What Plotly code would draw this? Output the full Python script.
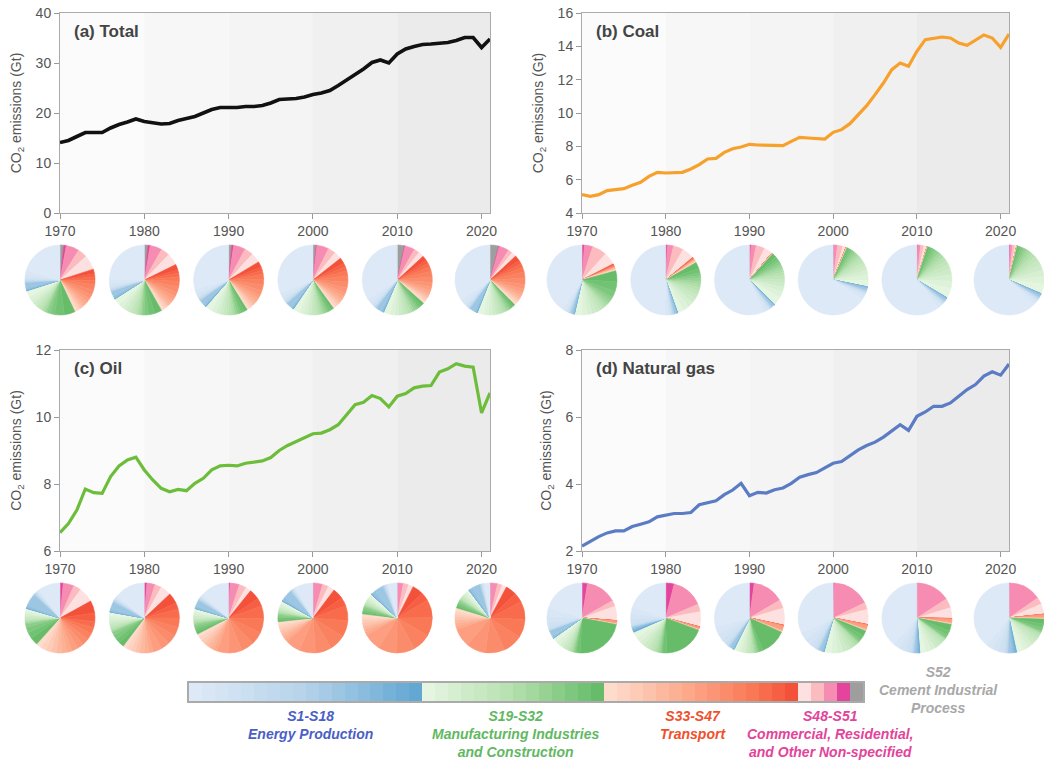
import plotly.graph_objects as go

W, H = 1044, 764

# ---------------------------------------------------------------- time series (Gt CO2)
years = list(range(1970, 2022))

total = [14.1, 14.5, 15.3, 16.1, 16.1, 16.1, 17.0, 17.7, 18.2, 18.8,
         18.3, 18.0, 17.8, 17.9, 18.5, 18.9, 19.3, 20.0, 20.7, 21.1,
         21.1, 21.1, 21.3, 21.3, 21.5, 22.0, 22.7, 22.8, 22.9, 23.2,
         23.7, 24.0, 24.5, 25.5, 26.5, 27.7, 28.8, 30.1, 30.6, 30.0,
         31.8, 32.8, 33.3, 33.7, 33.8, 33.9, 34.1, 34.5, 35.1, 35.1,
         33.1, 34.8]

coal = [5.1, 5.0, 5.1, 5.34, 5.4, 5.46, 5.66, 5.84, 6.2, 6.44,
        6.4, 6.4, 6.44, 6.64, 6.9, 7.24, 7.28, 7.64, 7.86, 7.96,
        8.12, 8.08, 8.06, 8.06, 8.04, 8.3, 8.54, 8.5, 8.46, 8.44,
        8.84, 9.0, 9.36, 9.9, 10.44, 11.1, 11.8, 12.6, 13.0, 12.8,
        13.7, 14.4, 14.46, 14.56, 14.5, 14.2, 14.06, 14.36, 14.68, 14.5,
        13.94, 14.74]

oil = [6.55, 6.82, 7.22, 7.85, 7.74, 7.72, 8.22, 8.54, 8.72, 8.80,
       8.42, 8.12, 7.87, 7.77, 7.84, 7.80, 8.02, 8.17, 8.42, 8.54,
       8.56, 8.54, 8.62, 8.65, 8.69, 8.79, 9.00, 9.15, 9.27, 9.40,
       9.50, 9.52, 9.62, 9.77, 10.07, 10.37, 10.44, 10.64, 10.55, 10.30,
       10.62, 10.70, 10.87, 10.92, 10.94, 11.34, 11.44, 11.59, 11.52, 11.49,
       10.12, 10.72]

gas = [2.15, 2.30, 2.43, 2.54, 2.60, 2.60, 2.73, 2.80, 2.87, 3.02,
       3.08, 3.12, 3.12, 3.15, 3.38, 3.45, 3.50, 3.68, 3.82, 4.02,
       3.65, 3.75, 3.73, 3.83, 3.88, 4.02, 4.20, 4.28, 4.34, 4.48,
       4.62, 4.67, 4.85, 5.02, 5.15, 5.25, 5.40, 5.60, 5.77, 5.60,
       6.02, 6.15, 6.32, 6.32, 6.42, 6.62, 6.82, 6.97, 7.22, 7.35,
       7.25, 7.58]

# ---------------------------------------------------------------- sector shares (%), S1..S52
# each list: S1-S18 energy | S19-S32 manufacturing | S33-S47 transport | S48-S51 commercial | S52 cement
pie_years = [1970, 1980, 1990, 2000, 2010, 2021]
sectors = [f"S{i}" for i in range(1, 53)]

total_1970 = ([20.5, 2.0, 1.2, 0.8, 0.5, 0.3, 0.2, 0.2, 0.2, 0.2, 0.2, 2.2, 0.8, 0.3, 0.1, 0.1, 0.1, 0.1]
              + [3.0, 2.0, 1.5, 1.5, 1.2, 1.2, 1.0, 1.0, 0.8, 0.8, 1.5, 2.0, 4.5, 5.0]
              + [1.0, 1.0, 0.8, 0.8, 1.0, 1.2, 1.5, 1.5, 2.0, 2.5, 2.5, 2.0, 1.7, 1.5, 2.0]
              + [6.7, 4.4, 6.0, 1.1] + [1.8])
total_1980 = ([24.5, 2.0, 1.2, 0.8, 0.5, 0.3, 0.2, 0.2, 0.2, 0.2, 0.2, 2.2, 0.8, 0.3, 0.1, 0.1, 0.1, 0.1]
              + [3.0, 2.2, 1.8, 1.6, 1.4, 1.3, 1.2, 1.0, 0.8, 0.7, 1.2, 1.5, 3.0, 3.3]
              + [1.0, 1.0, 0.8, 0.8, 1.0, 1.2, 1.5, 1.6, 2.1, 2.6, 2.6, 2.1, 1.7, 1.5, 2.5]
              + [5.5, 4.0, 5.5, 1.0] + [1.7])
total_1990 = ([29.1, 2.0, 1.2, 0.8, 0.5, 0.3, 0.2, 0.2, 0.2, 0.2, 0.2, 2.2, 0.8, 0.3, 0.1, 0.1, 0.1, 0.1]
              + [3.0, 2.2, 1.8, 1.6, 1.4, 1.3, 1.2, 1.0, 0.8, 0.7, 1.0, 1.0, 1.5, 1.5]
              + [1.0, 1.0, 0.8, 0.8, 1.0, 1.2, 1.5, 1.6, 2.2, 2.7, 2.7, 2.2, 1.8, 1.6, 2.6]
              + [4.5, 4.0, 5.5, 0.8] + [1.5])
total_2000 = ([30.8, 2.0, 1.2, 0.8, 0.5, 0.3, 0.2, 0.2, 0.2, 0.2, 0.2, 2.2, 0.8, 0.3, 0.1, 0.1, 0.1, 0.1]
              + [3.0, 2.2, 1.8, 1.6, 1.4, 1.3, 1.2, 1.0, 0.8, 1.0, 0.8, 0.8, 1.2, 1.2]
              + [1.0, 1.0, 0.8, 0.8, 1.0, 1.2, 1.5, 1.7, 2.3, 2.8, 2.8, 2.3, 1.9, 1.7, 2.7]
              + [3.5, 3.5, 5.5, 0.3] + [1.5])
total_2010 = ([33.8, 2.0, 1.2, 0.8, 0.5, 0.3, 0.2, 0.2, 0.2, 0.2, 0.2, 2.2, 0.8, 0.3, 0.1, 0.1, 0.1, 0.1]
              + [3.0, 2.2, 1.8, 1.6, 1.4, 1.3, 1.2, 1.0, 0.8, 1.0, 0.8, 0.8, 1.4, 1.4]
              + [0.9, 0.9, 0.7, 0.7, 0.9, 1.1, 1.4, 1.6, 2.1, 2.6, 2.6, 2.1, 1.7, 1.6, 2.3]
              + [2.5, 2.5, 4.5, 0.3] + [3.3])
total_2021 = ([34.4, 2.0, 1.2, 0.8, 0.5, 0.3, 0.2, 0.2, 0.2, 0.2, 0.2, 2.2, 0.8, 0.3, 0.1, 0.1, 0.1, 0.1]
              + [3.0, 2.2, 1.8, 1.6, 1.4, 1.3, 1.2, 1.0, 0.8, 0.8, 0.6, 0.6, 1.0, 1.0]
              + [0.9, 0.9, 0.7, 0.7, 0.9, 1.1, 1.4, 1.7, 2.2, 2.8, 2.8, 2.2, 1.8, 1.7, 2.6]
              + [2.2, 2.0, 4.5, 0.3] + [4.0])

coal_1970 = ([40.4, 1.5, 0.8, 0.5, 0.4, 0.3, 0.2, 0.2, 0.2, 0.2, 0.2, 0.8, 0.3, 0.2, 0.1, 0.1, 0.05, 0.05]
             + [3.5, 2.5, 2.2, 2.0, 1.8, 1.5, 1.2, 1.2, 1.3, 1.5, 1.5, 3.0, 4.5, 5.0]
             + [0.3, 0.3, 0.2, 0.2, 0.2, 0.2, 0.2, 0.2, 0.2, 0.2, 0.2, 0.2, 0.2, 0.2, 0.4]
             + [5.7, 6.7, 3.9, 1.1] + [0.0])
coal_1980 = ([49.5, 1.5, 0.8, 0.5, 0.4, 0.3, 0.2, 0.2, 0.2, 0.2, 0.2, 0.8, 0.3, 0.2, 0.1, 0.1, 0.05, 0.05]
             + [3.0, 2.8, 2.5, 2.2, 2.0, 1.8, 1.7, 1.5, 1.4, 1.4, 1.2, 1.3, 2.0, 3.0]
             + [0.3, 0.2, 0.2, 0.2, 0.2, 0.2, 0.2, 0.2, 0.2, 0.2, 0.1, 0.1, 0.1, 0.1, 0.3]
             + [5.6, 4.7, 2.8, 0.8] + [0.0])
coal_1990 = ([56.5, 1.5, 0.8, 0.5, 0.4, 0.3, 0.2, 0.2, 0.2, 0.2, 0.2, 0.8, 0.3, 0.2, 0.1, 0.1, 0.05, 0.05]
             + [4.0, 2.6, 2.3, 2.0, 1.8, 1.6, 1.5, 1.4, 1.3, 1.2, 1.2, 1.3, 1.5, 2.0]
             + [0.05, 0.05, 0.05, 0.05, 0.05, 0.03, 0.03, 0.03, 0.03, 0.03, 0.02, 0.02, 0.02, 0.02, 0.02]
             + [3.9, 4.0, 2.4, 0.7] + [0.0])
coal_2000 = ([65.9, 1.5, 0.8, 0.5, 0.4, 0.3, 0.2, 0.2, 0.2, 0.2, 0.2, 0.8, 0.3, 0.2, 0.1, 0.1, 0.05, 0.05]
             + [3.0, 2.5, 2.2, 2.0, 1.8, 1.6, 1.5, 1.3, 1.2, 1.1, 0.9, 0.9, 1.0, 0.7]
             + [0.05, 0.05, 0.05, 0.05, 0.05, 0.03, 0.03, 0.03, 0.03, 0.03, 0.02, 0.02, 0.02, 0.02, 0.02]
             + [1.5, 2.5, 1.5, 0.5] + [0.0])
coal_2010 = ([60.4, 1.5, 0.8, 0.5, 0.4, 0.3, 0.2, 0.2, 0.2, 0.2, 0.2, 0.8, 0.3, 0.2, 0.1, 0.1, 0.05, 0.05]
             + [4.5, 3.5, 3.0, 2.6, 2.3, 2.0, 1.8, 1.6, 1.4, 1.3, 1.2, 1.1, 1.2, 1.0]
             + [0.03, 0.03, 0.03, 0.03, 0.03, 0.02, 0.02, 0.02, 0.02, 0.02, 0.01, 0.01, 0.01, 0.01, 0.01]
             + [1.5, 1.5, 1.2, 0.5] + [0.0])
coal_2021 = ([62.5, 1.5, 0.8, 0.5, 0.4, 0.3, 0.2, 0.2, 0.2, 0.2, 0.2, 0.8, 0.3, 0.2, 0.1, 0.1, 0.05, 0.05]
             + [4.5, 3.5, 3.0, 2.6, 2.3, 2.0, 1.8, 1.6, 1.4, 1.2, 1.0, 1.0, 0.9, 0.8]
             + [0.02, 0.02, 0.02, 0.02, 0.02, 0.02, 0.02, 0.02, 0.02, 0.02, 0.0, 0.0, 0.0, 0.0, 0.0]
             + [0.8, 1.2, 1.0, 0.6] + [0.0])

oil_1970 = ([10.0, 0.8, 0.5, 0.4, 0.3, 0.3, 0.2, 0.2, 0.2, 0.2, 0.3, 5.5, 1.0, 0.3, 0.1, 0.1, 0.1, 0.1]
            + [1.2, 1.0, 0.9, 0.8, 0.7, 0.6, 0.6, 0.5, 0.5, 0.5, 1.5, 2.5, 3.0, 3.5]
            + [2.5, 2.5, 2.5, 2.4, 2.5, 2.4, 2.4, 3.0, 3.0, 3.0, 3.0, 3.0, 2.8, 4.0, 5.7]
            + [7.0, 3.5, 5.0, 1.5] + [0.0])
oil_1980 = ([14.0, 0.8, 0.5, 0.4, 0.3, 0.3, 0.2, 0.2, 0.2, 0.2, 0.4, 3.2, 0.9, 0.3, 0.1, 0.1, 0.05, 0.05]
            + [1.8, 1.4, 1.2, 1.0, 0.9, 0.8, 0.8, 0.6, 0.5, 0.5, 1.5, 2.0, 2.2, 2.3]
            + [2.0, 2.0, 2.0, 2.0, 2.2, 2.2, 2.0, 4.0, 4.2, 4.2, 4.2, 4.2, 4.2, 3.0, 4.8]
            + [5.0, 3.0, 3.8, 1.2] + [0.0])
oil_1990 = ([13.2, 0.8, 0.5, 0.4, 0.3, 0.3, 0.2, 0.2, 0.2, 0.2, 0.4, 2.6, 0.8, 0.2, 0.1, 0.1, 0.05, 0.05]
            + [1.4, 1.0, 0.9, 0.8, 0.7, 0.6, 0.6, 0.5, 0.5, 0.5, 1.0, 1.1, 1.2, 1.2]
            + [1.7, 1.7, 1.7, 1.7, 1.7, 1.8, 1.8, 5.5, 6.0, 6.0, 6.0, 6.5, 6.0, 3.6, 5.0]
            + [2.5, 3.3, 4.3, 0.7] + [0.0])
oil_2000 = ([8.2, 0.6, 0.4, 0.3, 0.3, 0.2, 0.2, 0.2, 0.2, 0.2, 0.4, 3.8, 1.2, 0.4, 0.2, 0.1, 0.05, 0.05]
            + [1.2, 0.9, 0.8, 0.7, 0.6, 0.5, 0.5, 0.4, 0.4, 0.4, 0.7, 0.8, 0.9, 0.9]
            + [1.4, 1.4, 1.4, 1.4, 1.4, 1.5, 1.5, 7.0, 7.5, 7.5, 7.5, 7.5, 7.0, 4.0, 5.0]
            + [3.0, 2.8, 4.2, 0.3] + [0.0])
oil_2010 = ([4.0, 0.5, 0.4, 0.3, 0.3, 0.2, 0.2, 0.2, 0.2, 0.2, 0.3, 4.2, 1.3, 0.5, 0.2, 0.1, 0.05, 0.05]
            + [1.4, 0.9, 0.8, 0.7, 0.6, 0.5, 0.5, 0.4, 0.4, 0.4, 0.8, 0.8, 0.9, 0.8]
            + [1.4, 1.4, 1.4, 1.4, 1.4, 1.5, 1.5, 8.0, 8.5, 8.5, 8.5, 8.5, 8.4, 4.0, 5.0]
            + [2.2, 2.5, 2.5, 0.3] + [0.0])
oil_2021 = ([2.4, 0.4, 0.3, 0.3, 0.2, 0.2, 0.2, 0.2, 0.1, 0.1, 0.3, 3.6, 1.2, 0.5, 0.1, 0.1, 0.05, 0.05]
            + [1.4, 0.9, 0.8, 0.7, 0.6, 0.5, 0.5, 0.4, 0.4, 0.4, 0.8, 0.8, 0.9, 0.9]
            + [1.4, 1.4, 1.4, 1.4, 1.5, 1.5, 1.5, 8.5, 9.0, 9.0, 9.0, 8.5, 8.4, 4.5, 5.0]
            + [2.1, 2.2, 3.3, 0.2] + [0.0])

gas_1970 = ([20.2, 4.0, 3.0, 2.0, 1.0, 0.2, 0.2, 0.2, 0.1, 0.1, 0.1, 2.8, 0.6, 0.2, 0.1, 0.1, 0.0, 0.0]
            + [2.5, 1.8, 1.5, 1.3, 1.1, 0.9, 0.8, 0.7, 0.5, 0.5, 0.5, 0.5, 1.8, 23.0]
            + [0.05, 0.05, 0.05, 0.05, 0.05, 0.05, 0.1, 1.0, 0.1, 0.05, 0.05, 0.05, 0.05, 0.05, 0.05]
            + [6.7, 2.8, 14.3, 2.5] + [0.0])
gas_1980 = ([20.0, 3.0, 2.5, 1.8, 1.0, 0.2, 0.2, 0.2, 0.1, 0.1, 0.1, 0.5, 0.4, 0.3, 0.3, 0.5, 0.3, 0.2]
            + [3.0, 2.4, 2.0, 1.8, 1.6, 1.4, 1.2, 1.0, 0.8, 0.6, 0.5, 0.5, 2.0, 19.0]
            + [0.05, 0.05, 0.05, 0.05, 0.05, 0.05, 0.1, 0.8, 0.1, 0.05, 0.05, 0.05, 0.05, 0.05, 0.05]
            + [6.9, 3.6, 14.7, 3.9] + [0.0])
gas_1990 = ([29.0, 3.5, 3.0, 2.0, 1.2, 0.5, 0.3, 0.2, 0.2, 0.2, 0.5, 1.2, 0.4, 0.2, 0.1, 0.1, 0.0, 0.0]
            + [2.0, 1.6, 1.4, 1.2, 1.0, 0.9, 0.8, 0.7, 0.6, 0.6, 0.5, 0.6, 1.8, 12.0]
            + [0.1, 0.1, 0.1, 0.1, 0.1, 0.2, 0.3, 1.8, 0.2, 0.1, 0.05, 0.05, 0.05, 0.05, 0.0]
            + [7.8, 4.0, 14.3, 2.2] + [0.0])
gas_2000 = ([32.0, 3.5, 3.0, 2.0, 1.2, 0.5, 0.3, 0.2, 0.2, 0.2, 0.5, 1.2, 0.4, 0.2, 0.1, 0.1, 0.1, 0.0]
            + [3.5, 2.8, 2.4, 2.0, 1.8, 1.5, 1.3, 1.0, 0.5, 0.4, 0.5, 1.0, 2.0, 2.5]
            + [0.1, 0.1, 0.1, 0.1, 0.1, 0.2, 0.3, 1.5, 0.2, 0.1, 0.05, 0.05, 0.05, 0.05, 0.0]
            + [6.9, 3.3, 17.2, 0.6] + [0.0])
gas_2010 = ([38.5, 3.0, 2.5, 2.0, 1.2, 0.5, 0.3, 0.2, 0.2, 0.2, 0.5, 0.6, 0.5, 0.4, 0.3, 0.3, 0.2, 0.1]
            + [3.0, 2.4, 2.0, 1.8, 1.5, 1.2, 1.0, 0.5, 0.3, 0.1, 0.5, 1.2, 2.2, 3.0]
            + [0.1, 0.1, 0.1, 0.1, 0.1, 0.2, 0.3, 1.3, 0.2, 0.1, 0.05, 0.05, 0.05, 0.05, 0.0]
            + [5.0, 4.4, 15.6, 0.3] + [0.0])
gas_2021 = ([38.8, 3.2, 2.7, 2.2, 1.2, 0.5, 0.3, 0.2, 0.2, 0.2, 0.5, 0.8, 0.7, 0.6, 0.5, 0.4, 0.3, 0.2]
            + [3.2, 2.6, 2.2, 1.9, 1.6, 1.3, 1.0, 0.6, 0.3, 0.2, 0.6, 1.3, 2.0, 2.2]
            + [0.1, 0.1, 0.1, 0.1, 0.1, 0.1, 0.2, 1.0, 0.2, 0.1, 0.05, 0.05, 0.0, 0.0, 0.0]
            + [4.8, 3.2, 15.0, 0.3] + [0.0])

pies_total = [total_1970, total_1980, total_1990, total_2000, total_2010, total_2021]
pies_coal = [coal_1970, coal_1980, coal_1990, coal_2000, coal_2010, coal_2021]
pies_oil = [oil_1970, oil_1980, oil_1990, oil_2000, oil_2010, oil_2021]
pies_gas = [gas_1970, gas_1980, gas_1990, gas_2000, gas_2010, gas_2021]

# ---------------------------------------------------------------- sector colours
def _rgb(h):
    return [int(h[i:i + 2], 16) for i in (1, 3, 5)]

def ramp(stops, n):
    """n colours along a piecewise-linear gradient given as (position, hex) stops."""
    out = []
    for k in range(n):
        t = k / (n - 1)
        for (ta, ca), (tb, cb) in zip(stops[:-1], stops[1:]):
            if ta <= t <= tb:
                f = (t - ta) / (tb - ta) if tb > ta else 0
                a, b = _rgb(ca), _rgb(cb)
                out.append("#%02x%02x%02x" % tuple(round(a[j] + (b[j] - a[j]) * f) for j in range(3)))
                break
    return out

sector_colors = (ramp([(0, "#dde9f6"), (0.5, "#b5d3ea"), (1, "#63a7d3")], 18)
                 + ramp([(0, "#e4f5e0"), (0.5, "#b5e0ae"), (1, "#66bc69")], 14)
                 + ramp([(0, "#fedccc"), (0.45, "#fca586"), (0.8, "#f97755"), (1, "#f4513a")], 15)
                 + ["#fde0e0", "#fcbcbf", "#f78cb2", "#e3449c"]
                 + ["#9e9e9e"])

# ---------------------------------------------------------------- layout geometry (px)
FONT = "Liberation Sans, Arial, Helvetica, sans-serif"
TXT = "#555555"
col_px = {"L": (60, 490), "R": (582, 1009)}
row_px = {"T": (13, 213), "B": (350, 551)}
pie_row_cy = {"T": 280, "B": 618}
PIE_R = 35

panels = [
    dict(name="(a) Total", y=total, color="#111111", lw=3.6, col="L", row="T",
         yr=[0, 40], dt=10, pies=pies_total),
    dict(name="(b) Coal", y=coal, color="#f7a02c", lw=3.2, col="R", row="T",
         yr=[4, 16], dt=2, pies=pies_coal),
    dict(name="(c) Oil", y=oil, color="#6cbd3a", lw=3.2, col="L", row="B",
         yr=[6, 12], dt=2, pies=pies_oil),
    dict(name="(d) Natural gas", y=gas, color="#5b7cc4", lw=3.2, col="R", row="B",
         yr=[2, 8], dt=2, pies=pies_gas),
]

decade_bands = [(1970, 1980, "#fbfbfb"), (1980, 1990, "#f7f7f7"), (1990, 2000, "#f4f4f4"),
                (2000, 2010, "#f0f0f0"), (2010, 2021, "#ebebeb")]

fig = go.Figure()
layout_axes = {}
shapes = []
annotations = []

for i, p in enumerate(panels, start=1):
    x0, x1 = col_px[p["col"]]
    t0, t1 = row_px[p["row"]]
    xa, ya = ("x", "y") if i == 1 else (f"x{i}", f"y{i}")
    fig.add_trace(go.Scatter(x=years, y=p["y"], mode="lines",
                             line=dict(color=p["color"], width=p["lw"]),
                             xaxis=xa, yaxis=ya, showlegend=False))
    xkey = "xaxis" if i == 1 else f"xaxis{i}"
    ykey = "yaxis" if i == 1 else f"yaxis{i}"
    layout_axes[xkey] = dict(domain=[x0 / W, x1 / W], anchor=ya, range=[1970, 2021],
                             tickvals=[1970, 1980, 1990, 2000, 2010, 2020],
                             ticks="outside", ticklen=5, tickcolor="#999999",
                             showline=True, linecolor="#aaaaaa", linewidth=1, mirror=True,
                             showgrid=False, zeroline=False, automargin=False,
                             tickfont=dict(size=14, color=TXT, family=FONT))
    layout_axes[ykey] = dict(domain=[1 - t1 / H, 1 - t0 / H], anchor=xa, range=p["yr"],
                             dtick=p["dt"], tick0=p["yr"][0],
                             ticks="outside", ticklen=5, tickcolor="#999999",
                             showline=True, linecolor="#aaaaaa", linewidth=1, mirror=True,
                             showgrid=False, zeroline=False, automargin=False,
                             tickfont=dict(size=14, color=TXT, family=FONT),
                             title=dict(text="CO<sub>2</sub> emissions (Gt)", standoff=10,
                                        font=dict(size=14, color=TXT, family=FONT)))
    for b0, b1, c in decade_bands:
        shapes.append(dict(type="rect", xref=xa, yref=f"{ya} domain", x0=b0, x1=b1,
                           y0=0, y1=1, fillcolor=c, line=dict(width=0), layer="below"))
    annotations.append(dict(text=f"<b>{p['name']}</b>", xref="paper", yref="paper",
                            x=(x0 + 12) / W, y=1 - (t0 + 18) / H, xanchor="left",
                            yanchor="middle", showarrow=False,
                            font=dict(size=17, color="#444444", family=FONT)))
    # sector pies under the panel, centred on their year; drawn clockwise from
    # 12 o'clock starting with S52 so that S1 closes the circle on the left
    cy = pie_row_cy[p["row"]]
    rev_cols = sector_colors[::-1]
    for yr, vals in zip(pie_years, p["pies"]):
        cx = x0 + (yr - 1970) / (2021 - 1970) * (x1 - x0)
        dom_x = [max(0.0, (cx - PIE_R) / W), min(1.0, (cx + PIE_R) / W)]
        dom_y = [1 - (cy + PIE_R) / H, 1 - (cy - PIE_R) / H]
        fig.add_trace(go.Pie(values=vals[::-1], labels=sectors[::-1], sort=False,
                             direction="clockwise", rotation=0,
                             marker=dict(colors=rev_cols,
                                         line=dict(width=0.6, color=rev_cols)),
                             textinfo="none", showlegend=False,
                             domain=dict(x=dom_x, y=dom_y),
                             name=f"{p['name']} {yr}"))

# ---------------------------------------------------------------- sector colour key
fig.add_trace(go.Bar(x=list(range(52)), y=[1] * 52, width=1, marker=dict(color=sector_colors,
                     line=dict(width=0)), xaxis="x5", yaxis="y5", showlegend=False,
                     hovertext=sectors, hoverinfo="text"))
layout_axes["xaxis5"] = dict(domain=[189 / W, 863 / W], anchor="y5", range=[-0.5, 51.5],
                             showticklabels=False, ticks="", showgrid=False, zeroline=False,
                             automargin=False,
                             showline=True, linecolor="#aaaaaa", linewidth=1.5, mirror=True)
layout_axes["yaxis5"] = dict(domain=[1 - 701 / H, 1 - 683 / H], anchor="x5", range=[0, 1],
                             showticklabels=False, ticks="", showgrid=False, zeroline=False,
                             automargin=False,
                             showline=True, linecolor="#aaaaaa", linewidth=1.5, mirror=True)

key_labels = [
    ("S1-S18<br>Energy Production", 310, 706, "#4a5fc6"),
    ("S19-S32<br>Manufacturing Industries<br>and Construction", 515, 706, "#62b862"),
    ("S33-S47<br>Transport", 693, 706, "#f14f2c"),
    ("S48-S51<br>Commercial, Residential,<br>and Other Non-specified", 830, 706, "#e2449a"),
    ("S52<br>Cement Industrial<br>Process", 938, 662, "#a8a8a8"),
]
for text, cx, top, c in key_labels:
    annotations.append(dict(text="<b><i>" + text.replace("<br>", "</i></b><br><b><i>") + "</i></b>",
                            xref="paper", yref="paper", x=cx / W, y=1 - top / H,
                            xanchor="center", yanchor="top", align="center", showarrow=False,
                            font=dict(size=14, color=c, family=FONT)))

fig.update_layout(width=W, height=H, margin=dict(l=0, r=0, t=0, b=0, autoexpand=False),
                  paper_bgcolor="white", plot_bgcolor="white",
                  font=dict(family=FONT, color=TXT), bargap=0,
                  shapes=shapes, annotations=annotations, **layout_axes)

fig.write_html("out.html")
